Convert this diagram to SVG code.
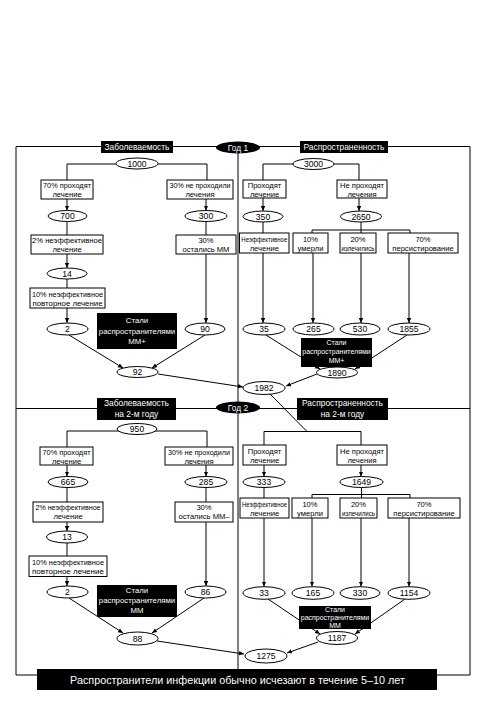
<svg xmlns="http://www.w3.org/2000/svg" width="493" height="709" viewBox="0 0 493 709">
<defs>
<marker id="ah" markerUnits="userSpaceOnUse" markerWidth="6" markerHeight="5" refX="5" refY="2.2" orient="auto">
<path d="M0,0 L5,2.2 L0,4.4 z" fill="#000"/>
</marker>
<style>
text{font-family:"Liberation Sans",Arial,sans-serif;text-anchor:middle;fill:#000}
.t{font-size:7.6px}
.n{font-size:8.6px}
.lb{font-size:8.4px;fill:#fff}
.s{font-size:7.8px;fill:#fff}
.ss{font-size:7px;fill:#fff}
rect.b{fill:#fff;stroke:#000;stroke-width:1}
rect.k{fill:#000;stroke:none}
ellipse{fill:#fff;stroke:#000;stroke-width:1}
ellipse.k{fill:#000;stroke:none}
line,polyline{stroke:#000;stroke-width:1;fill:none}
.a{marker-end:url(#ah)}
</style>
</defs>
<rect width="493" height="709" fill="#fff"/>
<g id="frame">
<polyline points="16,675 16,146.5 470,146.5 470,675 16,675"/>
<line x1="238" y1="146.5" x2="238" y2="675"/>
<line x1="16" y1="408.5" x2="470" y2="408.5"/>
</g>
<g id="connectors">
<polyline points="67,180 67,164 207,164 207,180"/>
<line class="a" x1="67" y1="199" x2="67" y2="210.5"/>
<line class="a" x1="206" y1="199" x2="206" y2="210.5"/>
<line x1="67" y1="221.5" x2="67" y2="235"/>
<line x1="206" y1="221.5" x2="206" y2="235"/>
<line class="a" x1="67" y1="254" x2="67" y2="268"/>
<line x1="67" y1="279" x2="67" y2="288"/>
<line class="a" x1="67" y1="308" x2="67" y2="323"/>
<line class="a" x1="206" y1="254" x2="206" y2="323"/>
<line class="a" x1="69" y1="335" x2="123" y2="368"/>
<line class="a" x1="205" y1="335" x2="152" y2="368"/>
<line class="a" x1="158" y1="374" x2="243" y2="387"/>
<polyline points="263,180 263,164 359,164 359,180"/>
<line class="a" x1="263" y1="198" x2="263" y2="211"/>
<line class="a" x1="359" y1="198" x2="359" y2="211"/>
<line x1="263" y1="222" x2="263" y2="233"/>
<line x1="361" y1="222" x2="361" y2="230"/>
<polyline points="312,233 312,230 410,230 410,233"/>
<line x1="361" y1="230" x2="361" y2="233"/>
<line class="a" x1="263" y1="253" x2="263" y2="323"/>
<line class="a" x1="313" y1="253" x2="313" y2="323"/>
<line class="a" x1="361" y1="253" x2="361" y2="323"/>
<line class="a" x1="409" y1="253" x2="409" y2="323"/>
<line class="a" x1="266" y1="335" x2="320" y2="369"/>
<line class="a" x1="407" y1="335" x2="355" y2="369"/>
<line class="a" x1="317" y1="374" x2="286" y2="386"/>
<polyline points="67,447 67,431 207,431 207,447"/>
<line class="a" x1="67" y1="465" x2="67" y2="476.5"/>
<line class="a" x1="206" y1="465" x2="206" y2="476.5"/>
<line x1="67" y1="487.5" x2="67" y2="502"/>
<line x1="206" y1="487.5" x2="206" y2="502"/>
<line class="a" x1="67" y1="522" x2="67" y2="531"/>
<line x1="67" y1="543" x2="67" y2="556"/>
<line class="a" x1="67" y1="576.5" x2="67" y2="586"/>
<line class="a" x1="206" y1="522" x2="206" y2="586"/>
<line class="a" x1="69" y1="598" x2="123" y2="633"/>
<line class="a" x1="204" y1="598" x2="152" y2="633"/>
<line class="a" x1="157" y1="641" x2="244" y2="654"/>
<line x1="270" y1="394" x2="307" y2="431.5"/>
<polyline points="264,445 264,431.5 361,431.5 361,445"/>
<line class="a" x1="264" y1="465" x2="264" y2="476.5"/>
<line class="a" x1="361" y1="465" x2="361" y2="476.5"/>
<line x1="264" y1="487.5" x2="264" y2="498"/>
<line x1="361.5" y1="487.5" x2="361.5" y2="494.5"/>
<polyline points="312,498 312,494.5 410,494.5 410,498"/>
<line x1="361.5" y1="494.5" x2="361.5" y2="498"/>
<line class="a" x1="264" y1="518" x2="264" y2="586.5"/>
<line class="a" x1="312" y1="518" x2="312" y2="586.5"/>
<line class="a" x1="361" y1="518" x2="361" y2="586.5"/>
<line class="a" x1="409" y1="518" x2="409" y2="586.5"/>
<line class="a" x1="268" y1="599" x2="320" y2="634"/>
<line class="a" x1="405" y1="599" x2="355" y2="634"/>
<line class="a" x1="318" y1="642" x2="287" y2="653"/>
</g>
<g id="h-zab1"><rect class="k" x="101" y="141" width="72" height="12"/><text class="lb" x="137" y="150">Заболеваемость</text></g>
<g id="h-god1"><ellipse class="k" cx="238" cy="147.5" rx="22" ry="6"/><text class="lb" x="238" y="150.5">Год 1</text></g>
<g id="h-ras1"><rect class="k" x="300" y="141" width="88" height="12"/><text class="lb" x="344" y="150">Распространенность</text></g>
<g id="h-zab2"><rect class="k" x="97" y="398" width="79" height="22"/><text class="lb" x="136.5" y="406">Заболеваемость</text><text class="lb" x="136.5" y="417">на 2-м году</text></g>
<g id="h-god2"><ellipse class="k" cx="238" cy="407.5" rx="22" ry="6"/><text class="lb" x="238" y="410.5">Год 2</text></g>
<g id="h-ras2"><rect class="k" x="297" y="398" width="91" height="22"/><text class="lb" x="342.5" y="406">Распространенность</text><text class="lb" x="342.5" y="417">на 2-м году</text></g>
<g id="n1000"><ellipse cx="137" cy="163.5" rx="21" ry="5.5"/><text class="n" x="137" y="166.5">1000</text></g>
<g id="b70a"><rect class="b" x="41" y="180" width="52" height="19"/><text class="t" x="67" y="188" textLength="48" lengthAdjust="spacingAndGlyphs">70% проходят</text><text class="t" x="67" y="197">лечение</text></g>
<g id="b30a"><rect class="b" x="167" y="180" width="66" height="19"/><text class="t" x="200" y="188" textLength="61" lengthAdjust="spacingAndGlyphs">30% не проходили</text><text class="t" x="200" y="197">лечения</text></g>
<g id="n700"><ellipse cx="67.5" cy="216" rx="19.5" ry="5.5"/><text class="n" x="67.5" y="219">700</text></g>
<g id="n300"><ellipse cx="206" cy="216" rx="21" ry="5.5"/><text class="n" x="206" y="219">300</text></g>
<g id="b2a"><rect class="b" x="31" y="235" width="72" height="19"/><text class="t" x="67" y="243">2% неэффективное</text><text class="t" x="67" y="252">лечение</text></g>
<g id="b30b"><rect class="b" x="176" y="235" width="60" height="19"/><text class="t" x="206" y="243">30%</text><text class="t" x="206" y="252">остались ММ</text></g>
<g id="n14"><ellipse cx="67" cy="273.5" rx="20" ry="5.5"/><text class="n" x="67" y="276.5">14</text></g>
<g id="b10a"><rect class="b" x="30" y="288" width="75" height="20"/><text class="t" x="67.5" y="296.5" textLength="71" lengthAdjust="spacingAndGlyphs">10% неэффективное</text><text class="t" x="67.5" y="305.5" textLength="70" lengthAdjust="spacingAndGlyphs">повторное лечение</text></g>
<g id="n2a"><ellipse cx="67.5" cy="329" rx="20.5" ry="6"/><text class="n" x="67.5" y="332">2</text></g>
<g id="s1"><rect class="k" x="97" y="313" width="80" height="36"/><text class="s" x="137" y="323">Стали</text><text class="s" x="137" y="334">распространителями</text><text class="s" x="137" y="344">ММ+</text></g>
<g id="n90"><ellipse cx="205" cy="329" rx="20" ry="6"/><text class="n" x="205" y="332">90</text></g>
<g id="n92"><ellipse cx="137.5" cy="372" rx="20.5" ry="5.5"/><text class="n" x="137.5" y="375">92</text></g>
<g id="n3000"><ellipse cx="313.5" cy="164" rx="20.5" ry="5.5"/><text class="n" x="313.5" y="167">3000</text></g>
<g id="bPro1"><rect class="b" x="243" y="180" width="43" height="18"/><text class="t" x="264.5" y="188">Проходят</text><text class="t" x="264.5" y="196.5">лечение</text></g>
<g id="bNe1"><rect class="b" x="337" y="180" width="50" height="18"/><text class="t" x="362" y="188">Не проходят</text><text class="t" x="362" y="196.5">лечения</text></g>
<g id="n350"><ellipse cx="263" cy="216.5" rx="20" ry="5.5"/><text class="n" x="263" y="219.5">350</text></g>
<g id="n2650"><ellipse cx="361" cy="216.5" rx="20.5" ry="5.5"/><text class="n" x="361" y="219.5">2650</text></g>
<g id="bNeff1"><rect class="b" x="239.5" y="233" width="49.5" height="20"/><text class="t" x="264.3" y="241.5" textLength="46" lengthAdjust="spacingAndGlyphs">Неэффективное</text><text class="t" x="264.3" y="250.5">лечение</text></g>
<g id="b10u1"><rect class="b" x="293" y="233" width="35" height="20"/><text class="t" x="310.5" y="241.5">10%</text><text class="t" x="310.5" y="250.5">умерли</text></g>
<g id="b20i1"><rect class="b" x="340" y="233" width="36" height="20"/><text class="t" x="358" y="241.5">20%</text><text class="t" x="358" y="250.5" textLength="33" lengthAdjust="spacingAndGlyphs">излечились</text></g>
<g id="b70p1"><rect class="b" x="388" y="233" width="70" height="20"/><text class="t" x="423" y="241.5">70%</text><text class="t" x="423" y="250.5">персистирование</text></g>
<g id="n35"><ellipse cx="264" cy="329" rx="21" ry="6"/><text class="n" x="264" y="332">35</text></g>
<g id="n265"><ellipse cx="313.5" cy="329" rx="20.5" ry="6"/><text class="n" x="313.5" y="332">265</text></g>
<g id="n530"><ellipse cx="360" cy="329" rx="20" ry="6"/><text class="n" x="360" y="332">530</text></g>
<g id="n1855"><ellipse cx="409" cy="329" rx="21" ry="6"/><text class="n" x="409" y="332">1855</text></g>
<g id="s2"><rect class="k" x="301" y="338" width="71" height="29"/><text class="ss" x="336.5" y="344.5">Стали</text><text class="ss" x="336.5" y="353.5">распространителями</text><text class="ss" x="336.5" y="362.5">ММ+</text></g>
<g id="n1890"><ellipse cx="337" cy="372.5" rx="20.5" ry="5.5"/><text class="n" x="337" y="375.5">1890</text></g>
<g id="n1982"><ellipse cx="264" cy="388" rx="21" ry="6.5"/><text class="n" x="264" y="391">1982</text></g>
<g id="n950"><ellipse cx="137" cy="429" rx="20" ry="5.5"/><text class="n" x="137" y="432">950</text></g>
<g id="b70b"><rect class="b" x="40" y="447" width="53" height="18"/><text class="t" x="66.5" y="455" textLength="48" lengthAdjust="spacingAndGlyphs">70% проходят</text><text class="t" x="66.5" y="463.5">лечение</text></g>
<g id="b30c"><rect class="b" x="165" y="447" width="68" height="18"/><text class="t" x="199" y="455" textLength="62" lengthAdjust="spacingAndGlyphs">30% не проходили</text><text class="t" x="199" y="463.5">лечения</text></g>
<g id="n665"><ellipse cx="68" cy="482" rx="20" ry="5.5"/><text class="n" x="68" y="485">665</text></g>
<g id="n285"><ellipse cx="206" cy="482" rx="21" ry="5.5"/><text class="n" x="206" y="485">285</text></g>
<g id="b2b"><rect class="b" x="33" y="502" width="70" height="20"/><text class="t" x="68" y="510" textLength="65" lengthAdjust="spacingAndGlyphs">2% неэффективное</text><text class="t" x="68" y="519">лечение</text></g>
<g id="b30d"><rect class="b" x="175" y="502" width="58" height="20"/><text class="t" x="204" y="510">30%</text><text class="t" x="204" y="519">остались ММ–</text></g>
<g id="n13"><ellipse cx="67" cy="537" rx="20.5" ry="6"/><text class="n" x="67" y="540">13</text></g>
<g id="b10b"><rect class="b" x="29" y="556" width="78" height="20.5"/><text class="t" x="68" y="564.5" textLength="72" lengthAdjust="spacingAndGlyphs">10% неэффективное</text><text class="t" x="68" y="573.5" textLength="72" lengthAdjust="spacingAndGlyphs">повторное лечение</text></g>
<g id="n2b"><ellipse cx="67.5" cy="592" rx="20.5" ry="6"/><text class="n" x="67.5" y="595">2</text></g>
<g id="s3"><rect class="k" x="97" y="585" width="80" height="32"/><text class="s" x="137" y="593">Стали</text><text class="s" x="137" y="603">распространителями</text><text class="s" x="137" y="613">ММ</text></g>
<g id="n86"><ellipse cx="205.5" cy="592" rx="20.5" ry="6"/><text class="n" x="205.5" y="595">86</text></g>
<g id="n88"><ellipse cx="137.5" cy="638.5" rx="20.5" ry="6.5"/><text class="n" x="137.5" y="641.5">88</text></g>
<g id="bPro2"><rect class="b" x="243" y="445" width="43" height="20"/><text class="t" x="264.5" y="453.5">Проходят</text><text class="t" x="264.5" y="462.5">лечение</text></g>
<g id="bNe2"><rect class="b" x="337" y="445" width="50" height="20"/><text class="t" x="362" y="453.5">Не проходят</text><text class="t" x="362" y="462.5">лечения</text></g>
<g id="n333"><ellipse cx="264" cy="482" rx="21" ry="5.5"/><text class="n" x="264" y="485">333</text></g>
<g id="n1649"><ellipse cx="361.5" cy="482" rx="21.5" ry="5.5"/><text class="n" x="361.5" y="485">1649</text></g>
<g id="bNeff2"><rect class="b" x="240" y="498" width="49" height="20"/><text class="t" x="264.5" y="506.5" textLength="45" lengthAdjust="spacingAndGlyphs">Неэффективное</text><text class="t" x="264.5" y="515.5">лечение</text></g>
<g id="b10u2"><rect class="b" x="292" y="498" width="36" height="20"/><text class="t" x="310" y="506.5">10%</text><text class="t" x="310" y="515.5">умерли</text></g>
<g id="b20i2"><rect class="b" x="340" y="498" width="37" height="20"/><text class="t" x="358.5" y="506.5">20%</text><text class="t" x="358.5" y="515.5" textLength="33" lengthAdjust="spacingAndGlyphs">излечились</text></g>
<g id="b70p2"><rect class="b" x="388" y="498" width="72" height="20"/><text class="t" x="424" y="506.5">70%</text><text class="t" x="424" y="515.5">персистирование</text></g>
<g id="n33"><ellipse cx="264" cy="593" rx="21" ry="6.3"/><text class="n" x="264" y="596">33</text></g>
<g id="n165"><ellipse cx="313" cy="593" rx="21" ry="6.3"/><text class="n" x="313" y="596">165</text></g>
<g id="n330"><ellipse cx="360" cy="593" rx="20" ry="6.3"/><text class="n" x="360" y="596">330</text></g>
<g id="n1154"><ellipse cx="409" cy="593" rx="21" ry="6.3"/><text class="n" x="409" y="596">1154</text></g>
<g id="s4"><rect class="k" x="299" y="606" width="72" height="23"/><text class="ss" x="335" y="612">Стали</text><text class="ss" x="335" y="620">распространителями</text><text class="ss" x="335" y="628">ММ</text></g>
<g id="n1187"><ellipse cx="337" cy="638" rx="20.5" ry="6.5"/><text class="n" x="337" y="641">1187</text></g>
<g id="n1275"><ellipse cx="266" cy="656" rx="21" ry="7"/><text class="n" x="266" y="659">1275</text></g>
<g id="banner"><rect class="k" x="37" y="669" width="400" height="21"/><text x="237.5" y="683.5" style="font-size:10.8px;fill:#fff">Распространители инфекции обычно исчезают в течение 5–10 лет</text></g>
</svg>
